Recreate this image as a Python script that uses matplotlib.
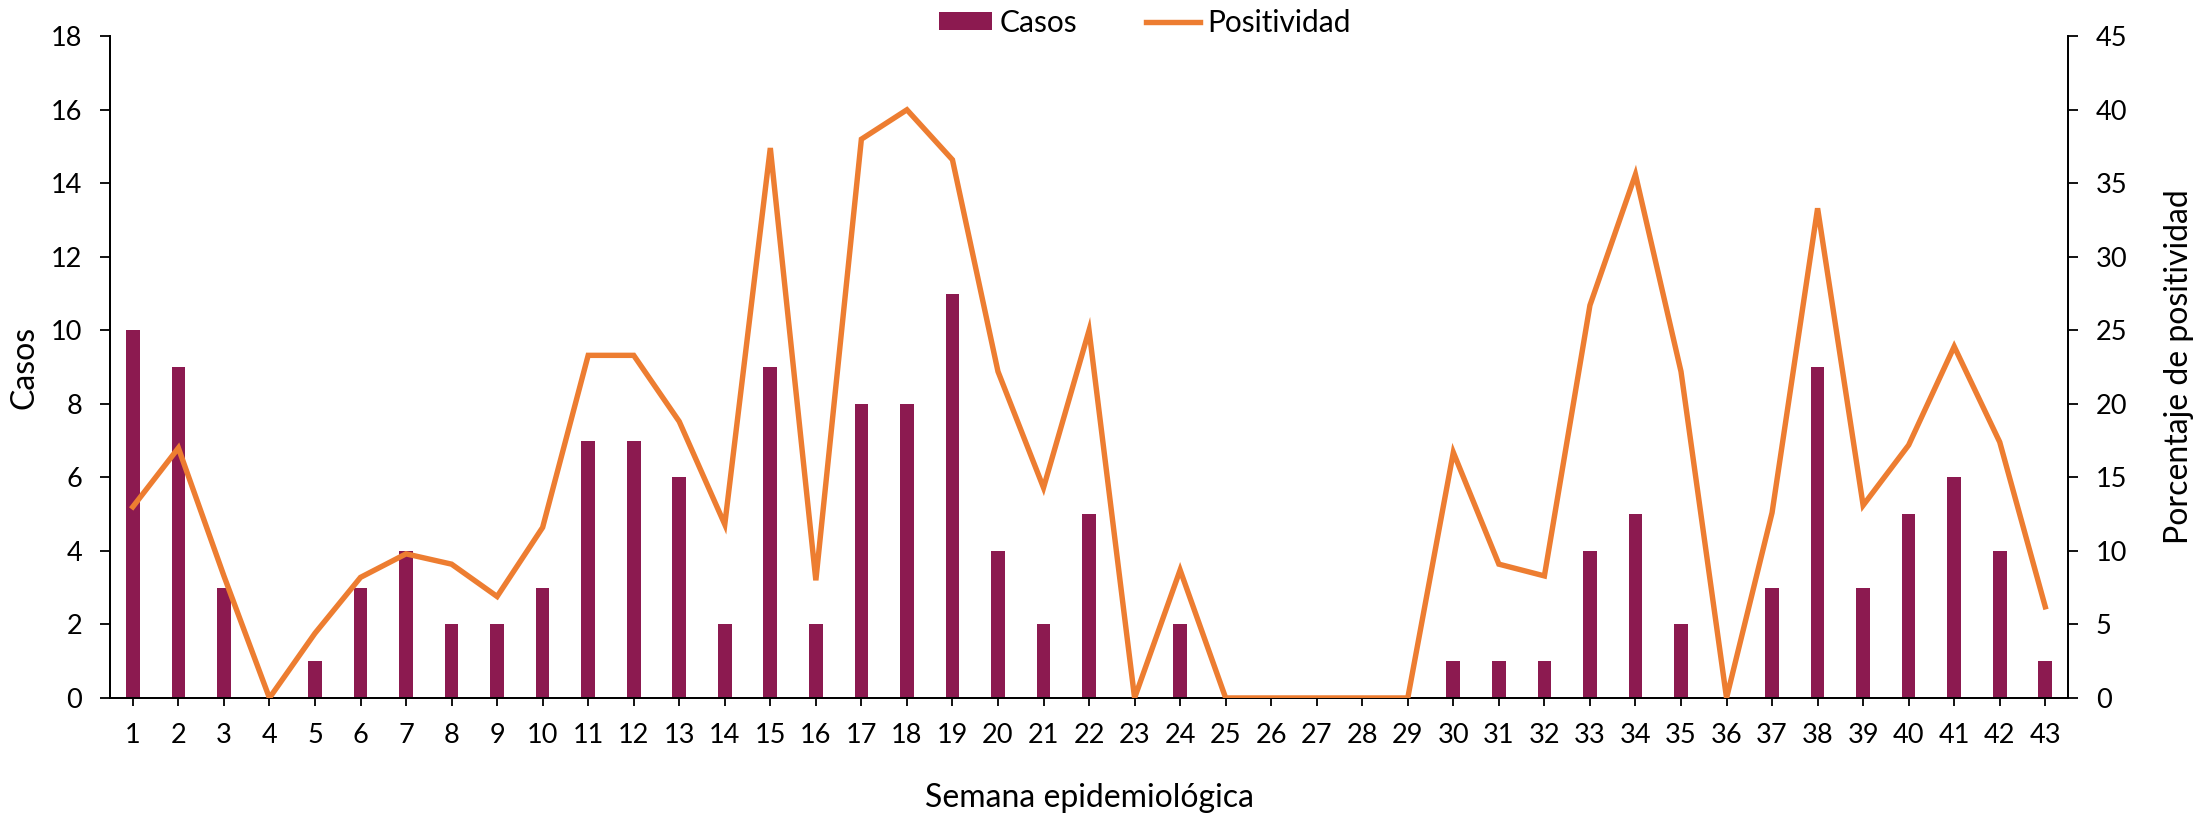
import matplotlib.pyplot as plt
import numpy as np

## data ##
semanas = list(range(1, 44))
casos = [10, 9, 3, 0, 1, 3, 4, 2, 2, 3, 7, 7, 6, 2, 9, 2, 8, 8, 11, 4, 2, 5,
         0, 2, 0, 0, 0, 0, 0, 1, 1, 1, 4, 5, 2, 0, 3, 9, 3, 5, 6, 4, 1]
positividad = [13.0, 17.0, 8.3, 0, 4.4, 8.2, 9.8, 9.1, 6.9, 11.6, 23.3, 23.3,
               18.8, 11.8, 37.4, 8.0, 38.0, 40.0, 36.6, 22.2, 14.3, 25.0, 0,
               8.7, 0, 0, 0, 0, 0, 16.7, 9.1, 8.3, 26.7, 35.6, 22.2, 0, 12.6,
               33.3, 13.1, 17.2, 23.9, 17.4, 6.2]

color_casos = '#8C1A50'
color_pos = '#ED7D31'

plt.rcParams['font.family'] = ['Lato', 'DejaVu Sans']

def main():
    fig = plt.figure(figsize=(21.97, 8.13), dpi=100)
    ax = fig.add_axes([0.0501, 0.1415, 0.8912, 0.8139])
    ax2 = ax.twinx()

    x = np.array(semanas)
    ax.bar(x, casos, width=0.30, color=color_casos, label='Casos', zorder=2)
    ax2.plot(x, positividad, color=color_pos, linewidth=3.9, label='Positividad',
             solid_joinstyle='miter', zorder=3)

    ax.set_xlim(0.5, 43.5)
    ax.set_ylim(0, 18)
    ax.set_yticks(range(0, 19, 2))
    ax2.set_ylim(0, 45)
    ax2.set_yticks(range(0, 46, 5))
    ax.set_xticks(x)
    ax.set_xticklabels([str(s) for s in semanas])

    for a in (ax, ax2):
        a.spines['top'].set_visible(False)
        for s in ('left', 'right', 'bottom'):
            a.spines[s].set_linewidth(1.3)
        a.tick_params(labelsize=19.5, width=1.3, direction='out')
    ax.tick_params(axis='x', length=6, pad=12)
    ax.tick_params(axis='y', length=7, pad=13)
    ax2.tick_params(axis='y', length=7, pad=13)

    # axis titles
    ax.set_ylabel('Casos', fontsize=23, labelpad=8)
    ax2.set_ylabel('Porcentaje de positividad', fontsize=23, labelpad=26)
    ax.set_xlabel('Semana epidemiológica', fontsize=23, labelpad=25)

    h1, l1 = ax.get_legend_handles_labels()
    h2, l2 = ax2.get_legend_handles_labels()
    fig.legend(h1 + h2, l1 + l2, loc='center', bbox_to_anchor=(0.521, 0.972),
               ncol=2, frameon=False, fontsize=21.5, handlelength=1.8,
               handleheight=0.55, columnspacing=2.3, handletextpad=0.25)

    fig.savefig('out.png', dpi=100)

if __name__ == "__main__":
    main()
